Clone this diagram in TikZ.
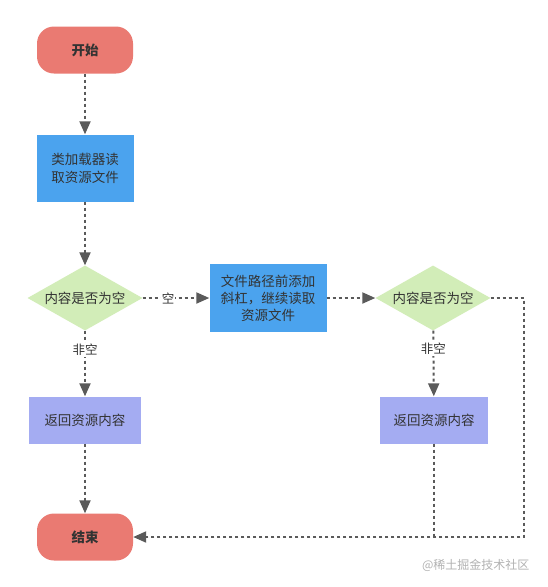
\documentclass[tikz,border=0pt]{standalone}
\usepackage{fontspec}
\setmainfont{Noto Sans CJK SC}
\usetikzlibrary{shapes.geometric,arrows.meta}
\definecolor{termred}{HTML}{EA7A72}
\definecolor{procblue}{HTML}{4BA3EE}
\definecolor{testgreen}{HTML}{D2EDB8}
\definecolor{retblue}{HTML}{A4ACF2}
\definecolor{linegray}{HTML}{5A5A5A}
\definecolor{textgray}{HTML}{333333}
\tikzset{
  term/.style={rectangle,rounded corners=17pt,fill=termred,minimum width=96pt,minimum height=47pt,
    text=textgray,font=\bfseries\fontsize{13.5}{16}\selectfont},
  proc/.style={rectangle,fill=procblue,minimum width=97pt,minimum height=67pt,align=center,
    text=textgray,font=\fontsize{13.5}{18}\selectfont},
  test/.style={diamond,fill=testgreen,aspect=1.77,inner sep=1pt,minimum width=115pt,minimum height=65pt,
    text=textgray,font=\fontsize{13.5}{16}\selectfont},
  ret/.style={rectangle,fill=retblue,minimum width=112pt,minimum height=47pt,
    text=textgray,font=\fontsize{13.5}{16}\selectfont},
  flow/.style={draw=linegray,line width=2pt,dash pattern=on 3pt off 3pt,-{Triangle[width=11pt,length=13pt]}},
  link/.style={draw=linegray,line width=2pt,dash pattern=on 3pt off 3pt},
  lbl/.style={fill=white,inner sep=1pt,text=textgray,font=\fontsize{12.5}{14}\selectfont}
}
\begin{document}
\begin{tikzpicture}[x=1pt,y=-1pt]
\useasboundingbox[fill=white] (0,0) rectangle (548,587);
% nodes
\node[term] (start) at (85,50) {开始};
\node[proc] (load) at (85,168) {类加载器读\\取资源文件};
\node[test] (empty1) at (85,298) {内容是否为空};
\node[proc,minimum width=117pt,minimum height=68pt,font=\fontsize{13.5}{17}\selectfont] (slash) at (268,298) {文件路径前添加\\斜杠，继续读取\\资源文件};
\node[test] (empty2) at (433,298) {内容是否为空};
\node[ret] (ret1) at (85,420) {返回资源内容};
\node[ret,minimum width=108pt] (ret2) at (434,420) {返回资源内容};
\node[term] (stop) at (85,537) {结束};
\coordinate (corner) at (524,298);
% connectors
\draw[flow] (start) -- (load);
\draw[flow] (load) -- (empty1);
\draw[flow] (empty1) -- (slash) node[lbl,pos=0.38] {空};
\draw[flow] (slash) -- (empty2);
\draw[flow] (empty1) -- (ret1) node[lbl,pos=0.29] {非空};
\draw[flow] (empty2) -- (ret2) node[lbl,pos=0.28] {非空};
\draw[flow] (ret1) -- (stop);
\draw[flow] (empty2.east) -- (corner) |- (stop.east);
\draw[link] (ret2.south) -- (ret2.south |- stop.east);
% watermark
\node[anchor=east,text=black!30,font=\fontsize{12}{14}\selectfont] (mark) at (533,565) {@稀土掘金技术社区};
\end{tikzpicture}
\end{document}
